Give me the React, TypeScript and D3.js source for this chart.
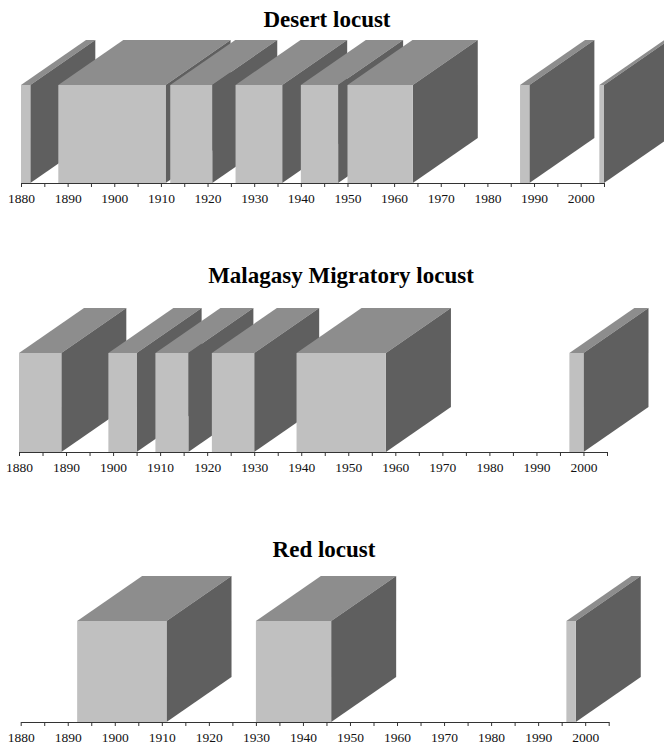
import React, { useEffect, useRef } from 'react';
import * as d3 from 'd3';

// outbreak periods (start year, end year)
const desertStart = [1880, 1888, 1912, 1926, 1940, 1950, 1987, 2004];
const desertEnd = [1882, 1911, 1921, 1936, 1948, 1964, 1989, 2005];

const malagasyStart = [1880, 1899, 1909, 1921, 1939, 1997];
const malagasyEnd = [1889, 1905, 1916, 1930, 1958, 2000];

const redStart = [1892, 1930, 1996];
const redEnd = [1911, 1946, 1998];

const titles = ['Desert locust', 'Malagasy Migratory locust', 'Red locust'];
const yearDomain = [1880, 2005];
const minorTicks = d3.range(1880, 2006, 5);
const labelTicks = d3.range(1880, 2001, 10);

const FRONT = '#c0c0c0';
const TOP = '#8d8d8d';
const SIDE = '#5f5f5f';
const DX = 65;
const DY = -45;

export default function App() {
  const ref = useRef<SVGSVGElement>(null);

  useEffect(() => {
    const svg = d3.select(ref.current);
    svg.selectAll('*').remove();

    const panels = [
      { title: titles[0], start: desertStart, end: desertEnd, x0: 21, x1: 604, axisY: 183, top: 85, titleX: 327, titleY: 27 },
      { title: titles[1], start: malagasyStart, end: malagasyEnd, x0: 19, x1: 607, axisY: 452, top: 353, titleX: 341, titleY: 283 },
      { title: titles[2], start: redStart, end: redEnd, x0: 20.7, x1: 608.7, axisY: 722, top: 621, titleX: 324, titleY: 557 },
    ];

    panels.forEach((p) => {
      const x = d3.scaleLinear().domain(yearDomain).range([p.x0, p.x1]);
      const g = svg.append('g');

      g.append('text')
        .text(p.title)
        .attr('x', p.titleX)
        .attr('y', p.titleY)
        .attr('text-anchor', 'middle')
        .attr('font-family', 'Liberation Serif, Times New Roman, serif')
        .attr('font-weight', 'bold')
        .attr('font-size', 23)
        .attr('fill', '#000');

      // boxes, left to right so later fronts cover earlier sides
      p.start.forEach((s, i) => {
        const a = x(s);
        const b = x(p.end[i]);
        const t = p.top;
        const y0 = p.axisY;
        const box = g.append('g');
        box.append('polygon')
          .attr('points', [[a, t], [b, t], [b + DX, t + DY], [a + DX, t + DY]].join(' '))
          .attr('fill', TOP);
        box.append('polygon')
          .attr('points', [[b, t], [b + DX, t + DY], [b + DX, y0 + DY], [b, y0]].join(' '))
          .attr('fill', SIDE);
        box.append('rect')
          .attr('x', a)
          .attr('y', t)
          .attr('width', b - a)
          .attr('height', y0 - t)
          .attr('fill', FRONT);
      });

      const axis = d3.axisBottom(x)
        .tickValues(minorTicks)
        .tickSize(4)
        .tickSizeOuter(0)
        .tickFormat((d) => (labelTicks.includes(d as number) ? String(d) : ''));

      const ax = g.append('g')
        .attr('transform', `translate(0,${p.axisY})`)
        .call(axis);
      ax.select('.domain').attr('stroke', '#333');
      ax.selectAll('.tick line').attr('stroke', '#333');
      ax.selectAll('.tick text')
        .attr('y', 10.5)
        .attr('fill', '#111')
        .attr('font-size', 13.5)
        .attr('font-family', 'Liberation Serif, Times New Roman, serif');
    });
  }, []);

  return (
    <svg
      ref={ref}
      width={664}
      height={745}
      style={{ position: 'absolute', left: 0, top: 0, background: '#fff' }}
    />
  );
}
